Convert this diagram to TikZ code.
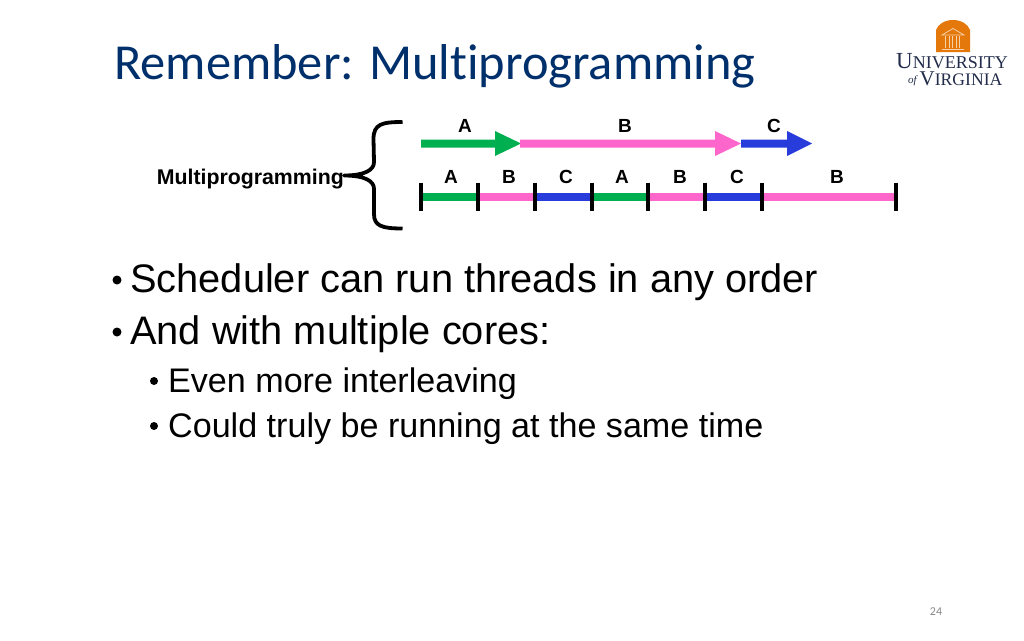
\documentclass[tikz,border=0pt]{standalone}
\usepackage{fontspec}
\setmainfont{Liberation Sans}
\newfontfamily\titlefont[RawFeature={-liga;-clig}]{Carlito}
\newfontfamily\logofont{Liberation Serif}
\definecolor{titleblue}{RGB}{0,48,108}
\definecolor{agreen}{RGB}{0,176,80}
\definecolor{bpink}{RGB}{255,102,204}
\definecolor{cblue}{RGB}{40,60,220}
\definecolor{uvaorange}{RGB}{229,120,10}
\definecolor{uvablue}{RGB}{35,45,75}
\definecolor{pagenum}{RGB}{137,137,137}
\tikzset{
  x=1pt,y=-1pt,
  lab/.style={font=\bfseries\fontsize{19}{20}\selectfont,inner sep=0pt,text=black},
  seg/.style={line width=8pt},
  tick/.style={line width=4pt,black},
  bodytext/.style={anchor=base west,inner sep=0pt,font=\fontsize{39.8}{40}\selectfont},
  subtext/.style={anchor=base west,inner sep=0pt,font=\fontsize{34.1}{36}\selectfont},
  logopale/.style={white!65!uvaorange},
}
\newcommand{\flecha}[4]{% start end colour headbase
  \fill[#3] (#1,139.5) -- (#4,139.5) -- (#4,131) -- (#2,143.5) -- (#4,156) -- (#4,147.5) -- (#1,147.5) -- cycle;}
\begin{document}
\begin{tikzpicture}
\useasboundingbox[fill=white] (0,0) rectangle (1024,640);
% title
\node[anchor=base west,inner sep=0pt,text=titleblue,font=\titlefont\fontsize{50.4}{52}\selectfont] (title) at (114,79) {Remember: Multiprogramming};
% logo
\fill[uvaorange] (936,52) -- (936,30) .. controls (938,24) and (945,20) .. (953,20) .. controls (961,20) and (968,24) .. (970,30) -- (970,52) -- cycle;
\foreach \x in {945,948.5,952,955.5,959}{\fill[logopale] (\x,36) rectangle ++(1.2,12);}
\draw[logopale,line width=.8pt] (942,35) -- (953,28.5) -- (964,35) -- cycle;
\draw[logopale,line width=.8pt] (942,49.5) -- (964,49.5);
\node[anchor=base west,inner sep=0pt,text=uvablue,font=\logofont\fontsize{23}{24}\selectfont] (uni) at (896,68.5) {U\fontsize{18}{18}\selectfont NIVERSITY};
\node[anchor=base west,inner sep=0pt,text=uvablue,font=\logofont\itshape\fontsize{11}{11}\selectfont] (of) at (908,83) {of};
\node[anchor=base west,inner sep=0pt,text=uvablue,font=\logofont\fontsize{21}{22}\selectfont] (vir) at (919.5,85.5) {V\fontsize{17.6}{18}\selectfont IRGINIA};
% top row
\flecha{421}{521}{agreen}{495}
\flecha{520}{741}{bpink}{715}
\flecha{741}{812}{cblue}{787}
\node[lab] (la) at (465,126) {A};
\node[lab] (lb) at (625,126) {B};
\node[lab] (lc) at (774,126) {C};
% timeline
\foreach \n/\x in {t0/421,t1/478,t2/535,t3/592,t4/648,t5/705,t6/762,t7/896}{\coordinate (\n) at (\x,196.5);}
\draw[seg,agreen] (t0) -- (t1);
\draw[seg,bpink] (t1) -- (t2);
\draw[seg,cblue] (t2) -- (t3);
\draw[seg,agreen] (t3) -- (t4);
\draw[seg,bpink] (t4) -- (t5);
\draw[seg,cblue] (t5) -- (t6);
\draw[seg,bpink] (t6) -- (t7);
\foreach \n in {t0,t1,t2,t3,t4,t5,t6,t7}{\draw[tick] ([yshift=14pt]\n) -- ([yshift=-14pt]\n);}
\foreach \n/\x/\t in {m1/451/A,m2/509/B,m3/566/C,m4/622/A,m5/680/B,m6/737/C,m7/837/B}{\node[lab] (\n) at (\x,177) {\t};}
\node[anchor=base east,inner sep=0pt,font=\bfseries\fontsize{21.3}{22}\selectfont] (mp) at (344,184) {Multiprogramming};
% brace
\draw[line width=3.8pt,black,line join=round] (402.5,122) .. controls (382,122) and (373.5,124) .. (373.5,139)
  -- (374,162) .. controls (374,170) and (365,175.5) .. (344,175.5)
  .. controls (365,175.5) and (374,181) .. (374,189) -- (374,214)
  .. controls (374,226) and (382,228.5) .. (402.5,228.5);
% bullets
\node[bodytext] (b1) at (130,292) {Scheduler can run threads in any order};
\node[bodytext] (b2) at (130,344) {And with multiple cores:};
\node[subtext] (s1) at (168,392) {Even more interleaving};
\node[subtext] (s2) at (168,437) {Could truly be running at the same time};
\fill (117,280) circle (4.5pt);
\fill (117,332) circle (4.5pt);
\fill (154,381) circle (4pt);
\fill (154,426) circle (4pt);
\node[anchor=base,inner sep=0pt,text=pagenum,font=\titlefont\fontsize{12}{14}\selectfont] (pg) at (936,615) {24};
\end{tikzpicture}
\end{document}
